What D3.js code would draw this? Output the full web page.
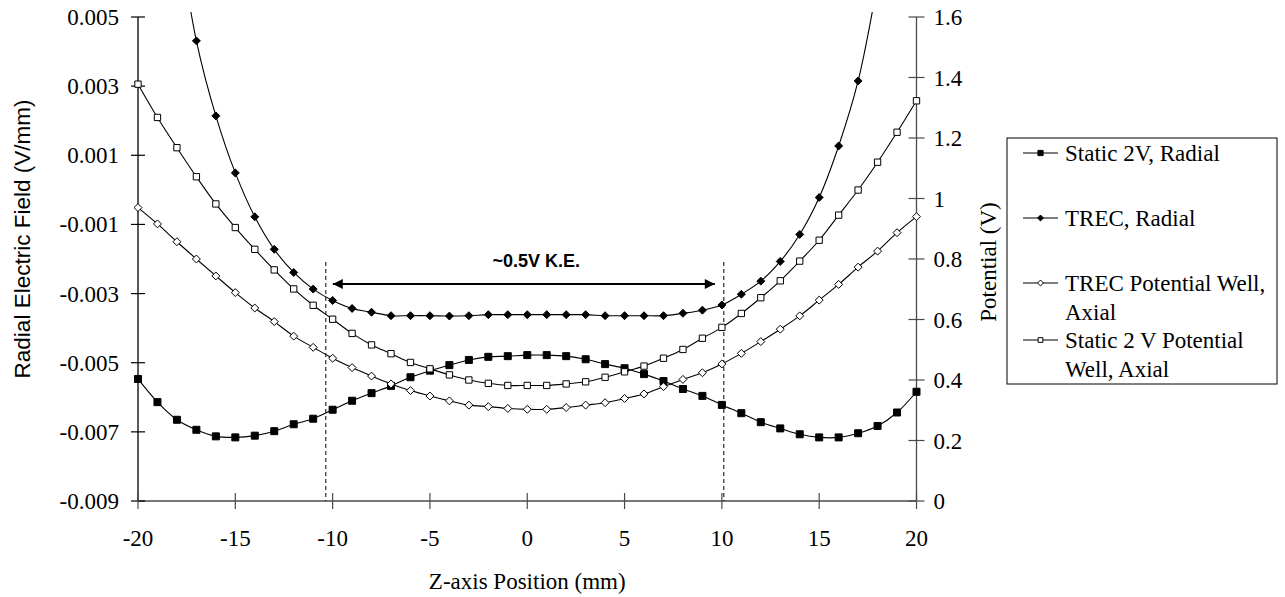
<!DOCTYPE html>
<html>
<head>
<meta charset="utf-8">
<script src="https://cdn.jsdelivr.net/npm/d3@7"></script>
<style>
html,body{margin:0;padding:0;background:#fff;}
svg{display:block;}
</style>
</head>
<body>
<svg id="chart" width="1285" height="597"></svg>
<script>
// ---------- DATA ----------
const zPositions = [-20,-19,-18,-17,-16,-15,-14,-13,-12,-11,-10,-9,-8,-7,-6,-5,-4,-3,-2,-1,0,1,2,3,4,5,6,7,8,9,10,11,12,13,14,15,16,17,18,19,20];

const static2vRadial = [-0.00547,-0.00614,-0.00665,-0.00694,-0.00713,-0.00716,-0.00711,-0.00698,-0.00678,-0.00662,-0.00636,-0.00610,-0.00588,-0.00567,-0.00542,-0.00523,-0.00507,-0.00492,-0.00483,-0.00481,-0.00478,-0.00478,-0.00481,-0.00490,-0.00504,-0.00516,-0.00533,-0.00553,-0.00576,-0.00596,-0.00622,-0.00646,-0.00672,-0.00690,-0.00707,-0.00716,-0.00716,-0.00704,-0.00683,-0.00644,-0.00584];

const trecRadial = [null,null,0.0077,0.00431,0.00214,0.00049,-0.00078,-0.00172,-0.00239,-0.00287,-0.00320,-0.00343,-0.00354,-0.00364,-0.00364,-0.00364,-0.00365,-0.00364,-0.00361,-0.00361,-0.00361,-0.00361,-0.00361,-0.00361,-0.00364,-0.00364,-0.00364,-0.00364,-0.00357,-0.00348,-0.00333,-0.00302,-0.00264,-0.00207,-0.00129,-0.00022,0.00127,0.00315,0.0060,null,null];

const trecWell = [0.970,0.916,0.857,0.800,0.744,0.689,0.638,0.593,0.545,0.508,0.472,0.441,0.413,0.387,0.365,0.347,0.331,0.317,0.312,0.306,0.303,0.303,0.309,0.317,0.325,0.339,0.354,0.378,0.402,0.424,0.453,0.488,0.527,0.568,0.612,0.664,0.716,0.773,0.826,0.887,0.940];

const static2vWell = [1.378,1.268,1.168,1.072,0.982,0.904,0.832,0.764,0.701,0.647,0.601,0.554,0.516,0.487,0.458,0.437,0.417,0.400,0.389,0.382,0.382,0.382,0.387,0.394,0.409,0.427,0.446,0.472,0.501,0.538,0.574,0.620,0.672,0.728,0.793,0.862,0.945,1.028,1.120,1.219,1.323];

const xTicks = [-20,-15,-10,-5,0,5,10,15,20];
const leftTicks = [0.005,0.003,0.001,-0.001,-0.003,-0.005,-0.007,-0.009];
const leftTickLabels = ["0.005","0.003","0.001","-0.001","-0.003","-0.005","-0.007","-0.009"];
const rightTicks = [0,0.2,0.4,0.6,0.8,1,1.2,1.4,1.6];
const rightTickLabels = ["0","0.2","0.4","0.6","0.8","1","1.2","1.4","1.6"];

const seriesNames = ["Static 2V, Radial","TREC, Radial","TREC Potential Well, Axial","Static 2 V Potential Well, Axial"];
const legendLines = [["Static 2V, Radial"],["TREC, Radial"],["TREC Potential Well,","Axial"],["Static 2 V Potential","Well, Axial"]];
const keBounds = [-10.35, 10.1];
const keLabel = "~0.5V K.E.";
const xTitle = "Z-axis Position (mm)";
const yLeftTitle = "Radial Electric Field (V/mm)";
const yRightTitle = "Potential (V)";

// ---------- LAYOUT ----------
const svg = d3.select("#chart");
const L = 138, R = 916.5, T = 17, B = 501;
const x = d3.scaleLinear().domain([-20,20]).range([L,R]);
const yL = d3.scaleLinear().domain([-0.009,0.005]).range([B,T]);
const yR = d3.scaleLinear().domain([0,1.6]).range([B,T]);

const serif = "'Liberation Serif','Times New Roman',serif";
const sans = "'Liberation Sans',Arial,sans-serif";
const FS = 23;

svg.append("defs").append("clipPath").attr("id","clip")
  .append("rect").attr("x",L-10).attr("y",12).attr("width",R-L+20).attr("height",B-12+10);

// axes
const axisColor = "#4a4a4a";
svg.append("line").attr("x1",L).attr("x2",L).attr("y1",T).attr("y2",B).attr("stroke","#000").attr("stroke-width",1.3);
svg.append("line").attr("x1",R).attr("x2",R).attr("y1",T).attr("y2",B).attr("stroke",axisColor).attr("stroke-width",1.3);
svg.append("line").attr("x1",L).attr("x2",R).attr("y1",B).attr("y2",B).attr("stroke",axisColor).attr("stroke-width",1.3);

// left ticks
leftTicks.forEach((v,i)=>{
  const yy = yL(v);
  svg.append("line").attr("x1",L-7).attr("x2",L+7).attr("y1",yy).attr("y2",yy).attr("stroke","#000").attr("stroke-width",1.2);
  svg.append("text").attr("x",L-19).attr("y",yy).attr("dy","0.35em").attr("text-anchor","end")
    .attr("font-family",serif).attr("font-size",FS).text(leftTickLabels[i]);
});
// right ticks
rightTicks.forEach((v,i)=>{
  const yy = yR(v);
  svg.append("line").attr("x1",R-8).attr("x2",R+8).attr("y1",yy).attr("y2",yy).attr("stroke",axisColor).attr("stroke-width",1.2);
  svg.append("text").attr("x",R+17).attr("y",yy).attr("dy","0.35em").attr("text-anchor","start")
    .attr("font-family",serif).attr("font-size",FS).text(rightTickLabels[i]);
});
// x ticks
xTicks.forEach(v=>{
  const xx = x(v);
  svg.append("line").attr("x1",xx).attr("x2",xx).attr("y1",B-8).attr("y2",B+8).attr("stroke",axisColor).attr("stroke-width",1.2);
  svg.append("text").attr("x",xx).attr("y",546).attr("text-anchor","middle")
    .attr("font-family",serif).attr("font-size",FS).text(String(v));
});

// titles
svg.append("text").attr("x",(L+R)/2).attr("y",589).attr("text-anchor","middle")
  .attr("font-family",serif).attr("font-size",FS).text(xTitle);
svg.append("text").attr("transform",`translate(30,${(T+B)/2-20}) rotate(-90)`).attr("text-anchor","middle")
  .attr("font-family",sans).attr("font-size",22.5).text(yLeftTitle);
svg.append("text").attr("transform",`translate(996,262) rotate(-90)`).attr("text-anchor","middle")
  .attr("font-family",serif).attr("font-size",FS).text(yRightTitle);

// dashed K.E. bounds
keBounds.forEach(v=>{
  svg.append("line").attr("x1",x(v)).attr("x2",x(v)).attr("y1",262).attr("y2",B)
    .attr("stroke","#000").attr("stroke-width",1).attr("stroke-dasharray","4,3");
});
// arrow
const defs = svg.select("defs");
defs.append("marker").attr("id","ah").attr("viewBox","0 0 10 10").attr("refX",10).attr("refY",5)
  .attr("markerWidth",12).attr("markerHeight",10).attr("markerUnits","userSpaceOnUse").attr("orient","auto-start-reverse")
  .append("path").attr("d","M0,0 L10,5 L0,10 z").attr("fill","#000");
svg.append("line").attr("x1",x(keBounds[0])+7).attr("x2",x(keBounds[1])-9).attr("y1",284).attr("y2",284)
  .attr("stroke","#000").attr("stroke-width",2).attr("marker-start","url(#ah)").attr("marker-end","url(#ah)");
svg.append("text").attr("x",x(0)+9).attr("y",267).attr("text-anchor","middle")
  .attr("font-family",sans).attr("font-weight","bold").attr("font-size",18).text(keLabel);

// marker shapes
const diamondType = { draw(ctx, size){ const r = Math.sqrt(size)/2*1.45; ctx.moveTo(0,-r); ctx.lineTo(r,0); ctx.lineTo(0,r); ctx.lineTo(-r,0); ctx.closePath(); } };
const squareType = d3.symbolSquare;
const seriesDefs = [
  {vals: static2vRadial, scale: yL, type: squareType, size: 49, fill:"#000"},
  {vals: trecRadial, scale: yL, type: diamondType, size: 30, fill:"#000"},
  {vals: trecWell, scale: yR, type: diamondType, size: 30, fill:"#fff"},
  {vals: static2vWell, scale: yR, type: squareType, size: 40, fill:"#fff"}
];

const plot = svg.append("g").attr("clip-path","url(#clip)");
seriesDefs.forEach(s=>{
  const pts = zPositions.map((z,i)=>({z, v:s.vals[i]})).filter(d=>d.v!==null);
  const line = d3.line().x(d=>x(d.z)).y(d=>s.scale(d.v)).curve(d3.curveCatmullRom.alpha(0.5));
  plot.append("path").attr("d",line(pts)).attr("fill","none").attr("stroke","#000").attr("stroke-width",1.1);
  plot.selectAll(null).data(pts.filter(d=>s.scale(d.v)>=12)).enter().append("path")
    .attr("transform",d=>`translate(${x(d.z)},${s.scale(d.v)})`)
    .attr("d",d3.symbol().type(s.type).size(s.size)())
    .attr("fill",s.fill).attr("stroke","#000").attr("stroke-width",1);
});

// legend
const lg = svg.append("g");
lg.append("rect").attr("x",1007).attr("y",138).attr("width",270).attr("height",246)
  .attr("fill","#fff").attr("stroke","#000").attr("stroke-width",1);
const entryY = [153,218,283,340];
seriesDefs.forEach((s,i)=>{
  const yy = entryY[i];
  lg.append("line").attr("x1",1023).attr("x2",1058).attr("y1",yy).attr("y2",yy).attr("stroke","#000").attr("stroke-width",1.1);
  lg.append("path").attr("transform",`translate(1040.5,${yy})`)
    .attr("d",d3.symbol().type(s.type).size(s.size*0.55)())
    .attr("fill",s.fill).attr("stroke","#000").attr("stroke-width",1);
  legendLines[i].forEach((t,j)=>{
    lg.append("text").attr("x",1065).attr("y",yy+j*29).attr("dy","0.35em")
      .attr("font-family",serif).attr("font-size",FS).text(t);
  });
});
</script>
</body>
</html>
